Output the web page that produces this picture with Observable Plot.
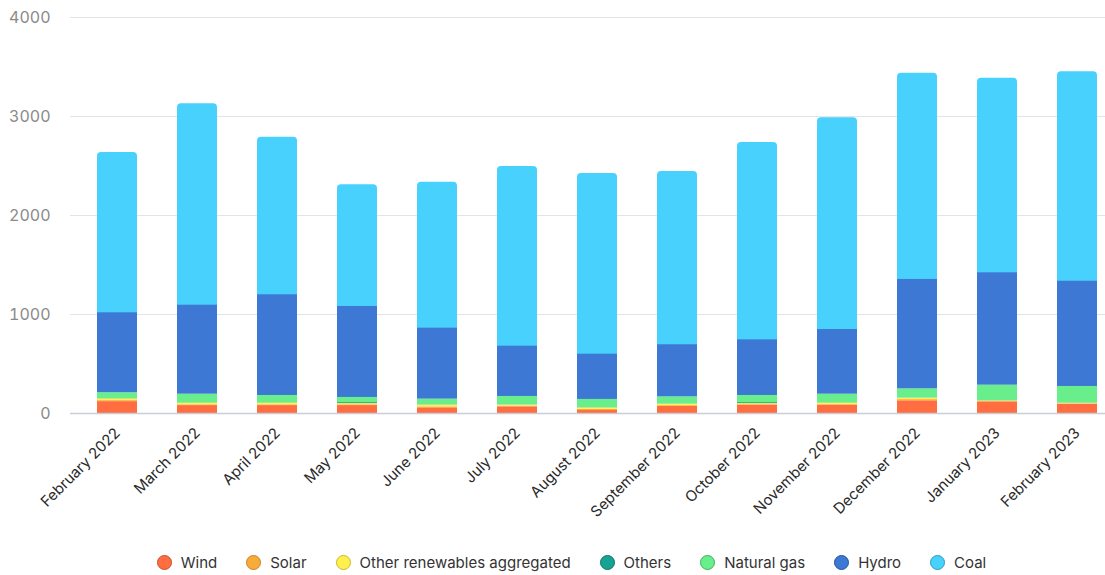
<!DOCTYPE html>
<html>
<head>
<meta charset="utf-8">
<script src="https://cdn.jsdelivr.net/npm/d3@7"></script>
<script src="https://cdn.jsdelivr.net/npm/@observablehq/plot@0.6"></script>
<style>
  body { margin: 0; background: #fff; font-family: Inter, "Noto Sans", sans-serif; }
  #chart { width: 1105px; }
  .legend { display: flex; justify-content: center; align-items: center; margin-top: 13px; font-size: 15px; color: #333; padding-left: 38px; }
  .legend .item { display: flex; align-items: center; margin: 0 14.5px; }
  .legend .sw { width: 13px; height: 13px; border-radius: 50%; border: 1.5px solid; margin-right: 9px; box-sizing: content-box; }
</style>
</head>
<body>
<div id="chart"></div>
<script>
const months = ["February 2022","March 2022","April 2022","May 2022","June 2022","July 2022","August 2022","September 2022","October 2022","November 2022","December 2022","January 2023","February 2023"];
const sources = ["Wind","Solar","Other renewables aggregated","Others","Natural gas","Hydro","Coal"];
const colors = ["#ff6d40","#f7ab3a","#fff04d","#17a393","#69ee8c","#3d78d4","#48d1fd"];
const strokes = ["#c94f2a","#c98424","#c9b92a","#0d7468","#3ab160","#24549e","#2a9cc4"];

const wind     = [120, 80, 80, 80, 57, 67, 30, 71, 84, 81, 128, 117, 93];
const solar    = [10, 8, 8, 8, 10, 8, 12, 8, 6, 8, 12, 6, 5];
const otherRen = [18, 15, 15, 12, 17, 10, 15, 15, 10, 15, 15, 6, 6];
const others   = [2, 2, 2, 10, 2, 2, 2, 2, 10, 2, 2, 2, 2];
const gas      = [60, 90, 77, 52, 59, 85, 83, 72, 72, 89, 92, 155, 167];
const hydro    = [807, 899, 1017, 919, 717, 508, 457, 526, 562, 653, 1105, 1135, 1063];
const coal     = [1619, 2034, 1592, 1229, 1474, 1815, 1825, 1750, 1993, 2139, 2083, 1966, 2115];
const yTicks   = [0, 1000, 2000, 3000, 4000];

const series = [wind, solar, otherRen, others, gas, hydro, coal];
const data = [];
months.forEach((m, i) => {
  sources.forEach((s, j) => data.push({month: m, source: s, value: series[j][i]}));
});

const stackOpts = {x: "month", y: "value", fill: "source", order: sources};

const chart = Plot.plot({
  width: 1105,
  height: 540,
  marginTop: 17,
  marginBottom: 127,
  marginLeft: 70,
  marginRight: 0,
  style: {fontFamily: "Inter, sans-serif", fontSize: "15px", background: "#fff"},
  x: {domain: months, paddingInner: 0.505, paddingOuter: 0.155, align: 0.76, label: null},
  y: {domain: [0, 4000], label: null},
  color: {domain: sources, range: colors},
  marks: [
    Plot.gridY(yTicks, {stroke: "#e4e4e4", strokeOpacity: 1}),
    Plot.axisY(yTicks, {tickSize: 0, tickPadding: 20, tickFormat: d3.format("d"), fill: "#8a8a8a", fontSize: 16, label: null}),
    Plot.barY(data, Plot.stackY({...stackOpts, rx: 4, insetBottom: -6, fillOpacity: d => d.source === "Coal" ? 1 : 0})),
    Plot.barY(data, Plot.stackY({...stackOpts, fillOpacity: d => d.source === "Coal" ? 0 : 1})),
    Plot.ruleY([0], {stroke: "#c9cdd8", strokeWidth: 1.5}),
    Plot.axisX({tickSize: 0, tickPadding: 17, tickRotate: -45, fill: "#2a2a2a", fontSize: 15, label: null})
  ]
});
document.getElementById("chart").appendChild(chart);

const legend = document.createElement("div");
legend.className = "legend";
sources.forEach((s, i) => {
  const it = document.createElement("div");
  it.className = "item";
  const sw = document.createElement("span");
  sw.className = "sw";
  sw.style.background = colors[i];
  sw.style.borderColor = strokes[i];
  const t = document.createElement("span");
  t.textContent = s;
  it.appendChild(sw); it.appendChild(t);
  legend.appendChild(it);
});
document.getElementById("chart").appendChild(legend);
</script>
</body>
</html>
